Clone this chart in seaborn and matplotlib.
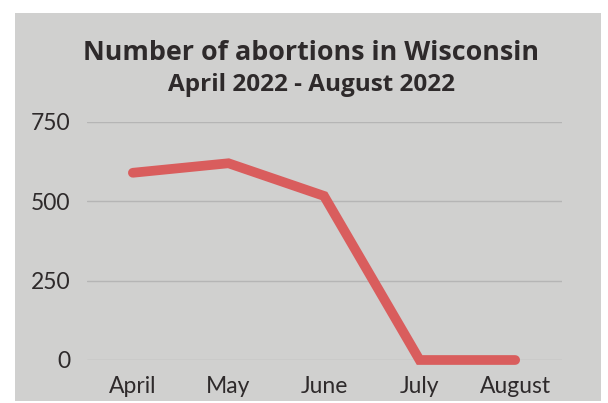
import numpy as np
import pandas as pd
import seaborn as sns
import matplotlib.pyplot as plt
from matplotlib.patches import Rectangle

# data
months = ['April', 'May', 'June', 'July', 'August']
abortions = [590, 620, 517, 0, 0]
y_ticks = [0, 250, 500, 750]

df = pd.DataFrame({'month': months, 'abortions': abortions})

bg = '#d0d0cf'
sns.set_style('white')
plt.rcParams['font.family'] = ['Lato', 'DejaVu Sans']

fig = plt.figure(figsize=(6.08, 4.03), dpi=100, facecolor='white')
# gray card behind the chart
fig.patches.append(Rectangle((15 / 608, 2 / 403), 586 / 608, 388 / 403,
                             transform=fig.transFigure, facecolor=bg,
                             edgecolor='none', zorder=-5))

ax = fig.add_axes([87 / 608, 43 / 403, 475 / 608, 238 / 403])
ax.set_zorder(2)
ax.set_facecolor(bg)

sns.lineplot(data=df, x='month', y='abortions', ax=ax, color='#d95d5d',
             linewidth=7, solid_capstyle='round', solid_joinstyle='miter',
             sort=False, clip_on=False, zorder=3)

ax.set_xlim(-0.48, 4.49)
ax.set_ylim(0, 750)
ax.set_yticks(y_ticks)
ax.set_yticklabels([str(v) for v in y_ticks])
ax.grid(axis='y', color='#b5b5b5', linewidth=1)
ax.grid(axis='x', visible=False)
for s in ax.spines.values():
    s.set_visible(False)
ax.tick_params(axis='both', length=0, labelsize=16.5, colors='#2e2a2b')
ax.tick_params(axis='y', pad=12)
ax.tick_params(axis='x', pad=11.5)
ax.set_xlabel('')
ax.set_ylabel('')

fig.text(311 / 608, 1 - 53 / 403, 'Number of abortions in Wisconsin',
         ha='center', va='center', fontsize=19.4, fontweight='bold',
         color='#2e2a2b', family=['Open Sans', 'DejaVu Sans'], zorder=5)
fig.text(311 / 608, 1 - 85 / 403, 'April 2022 - August 2022',
         ha='center', va='center', fontsize=17.5, fontweight='bold',
         color='#2e2a2b', family=['Open Sans', 'DejaVu Sans'], zorder=5)

fig.savefig('out.png', dpi=100, facecolor='white')
